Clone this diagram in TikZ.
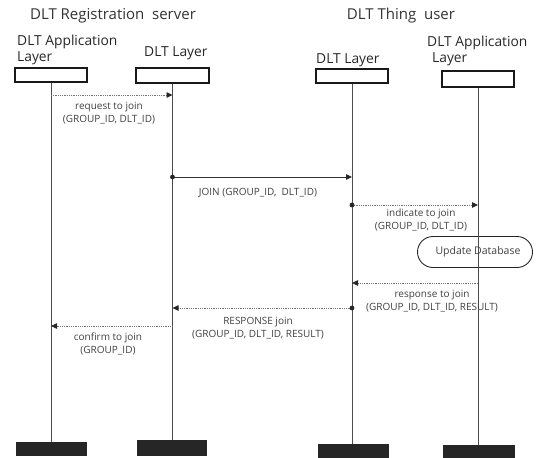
\documentclass[tikz,border=0pt]{standalone}
\usepackage{fontspec}
\setmainfont{Open Sans}
\usetikzlibrary{arrows.meta,shapes.misc}
\begin{document}
\begin{tikzpicture}[x=1pt,y=-1pt,
  title/.style={text=black!80, font=\fontsize{15}{17}\selectfont, inner sep=0},
  role/.style={text=black!85, font=\fontsize{13.8}{16}\selectfont, inner sep=0, align=left},
  headbox/.style={draw=black!90, line width=1.1pt, fill=white, inner sep=0},
  footbox/.style={fill=black!85, draw=none, inner sep=0},
  lifeline/.style={draw=black!70, line width=0.8pt},
  tip/.style={-{Triangle[length=6pt,width=5.5pt,color=black!85]}},
  msg/.style={draw=black!55, line width=0.8pt, densely dotted, tip},
  call/.style={draw=black!80, line width=0.8pt, tip},
  lbl/.style={text=black!75, font=\fontsize{10}{13}\selectfont, inner sep=0, align=center},
  dot/.style={fill=black!85},
  action/.style={rounded rectangle, draw=black!85, line width=0.9pt, fill=white,
    minimum width=115pt, minimum height=31pt, inner sep=0}
]
\useasboundingbox (0,0) rectangle (536,458);

% group titles
\node[title] (tserver) at (113,16) {DLT Registration\ \ server};
\node[title] (tuser) at (401,16) {DLT Thing\ \ user};

% participant names
\node[role, anchor=west] (nApp1) at (17,50) {DLT Application\\Layer};
\node[role, anchor=west] (nDlt1) at (144,53) {DLT Layer};
\node[role, anchor=west] (nDlt2) at (316,60) {DLT Layer};
\node[role, anchor=west] (nApp2) at (427,51) {DLT Application\\\hspace*{5pt}Layer};

% header boxes
\node[headbox, minimum width=72pt, minimum height=14pt] (h1) at (51,75) {};
\node[headbox, minimum width=73pt, minimum height=15pt] (h2) at (172.5,75.5) {};
\node[headbox, minimum width=72pt, minimum height=14pt] (h3) at (352,76) {};
\node[headbox, minimum width=72pt, minimum height=16pt] (h4) at (478,79) {};

% footer boxes
\node[footbox, minimum width=71pt, minimum height=14pt] (f1) at (51,449) {};
\node[footbox, minimum width=70pt, minimum height=16pt] (f2) at (172,448) {};
\node[footbox, minimum width=71pt, minimum height=14pt] (f3) at (353,451) {};
\node[footbox, minimum width=72pt, minimum height=13pt] (f4) at (479,451.5) {};

% lifelines
\draw[lifeline] (h1.south) -- (f1.north -| h1.south);
\draw[lifeline] (h2.south) -- (f2.north -| h2.south);
\draw[lifeline] (h3.south) -- (f3.north -| h3.south);
\draw[lifeline] (h4.south) -- (f4.north -| h4.south);

% local action on the application layer of the thing user
\node[action] (upd) at (475,252) {};
\node[lbl, font=\fontsize{10.5}{12}\selectfont] (updt) at (478,252) {Update Database};
\draw[lifeline] (upd.north -| h4.south) -- (upd.south -| h4.south);

% message end points
\coordinate (m1a) at (h1.south |- 0,95);
\coordinate (m1b) at (h2.south |- 0,95);
\coordinate (m2a) at (h2.south |- 0,177);
\coordinate (m2b) at (h3.south |- 0,177);
\coordinate (m3a) at (h3.south |- 0,205);
\coordinate (m3b) at (h4.south |- 0,205);
\coordinate (m4a) at (h4.south |- 0,283);
\coordinate (m4b) at (h3.south |- 0,283);
\coordinate (m5a) at (h3.south |- 0,308);
\coordinate (m5b) at (h2.south |- 0,308);
\coordinate (m6a) at (h2.south |- 0,326);
\coordinate (m6b) at (h1.south |- 0,326);

% messages
\draw[msg] (m1a) -- (m1b);
\draw[call] (m2a) -- (m2b);
\draw[msg] (m3a) -- (m3b);
\draw[msg] (m4a) -- (m4b);
\draw[msg] (m5a) -- (m5b);
\draw[msg] (m6a) -- (m6b);

\fill[dot] (m2a) circle (2.4pt);
\fill[dot] (m3a) circle (2.4pt);
\fill[dot] (m5a) circle (2.4pt);

% message labels
\node[lbl] (l1) at (109,113.5) {request to join\\(GROUP\_ID, DLT\_ID)};
\node[lbl] (l2) at (258,193) {JOIN (GROUP\_ID,\ \ DLT\_ID)};
\node[lbl] (l3) at (421,219.5) {indicate to join\\(GROUP\_ID, DLT\_ID)};
\node[lbl] (l4) at (432,301) {response to join\\(GROUP\_ID, DLT\_ID, RESULT)};
\node[lbl] (l5) at (258,328.5) {RESPONSE join\\(GROUP\_ID, DLT\_ID, RESULT)};
\node[lbl] (l6) at (108,344) {confirm to join\\(GROUP\_ID)};
\end{tikzpicture}
\end{document}
